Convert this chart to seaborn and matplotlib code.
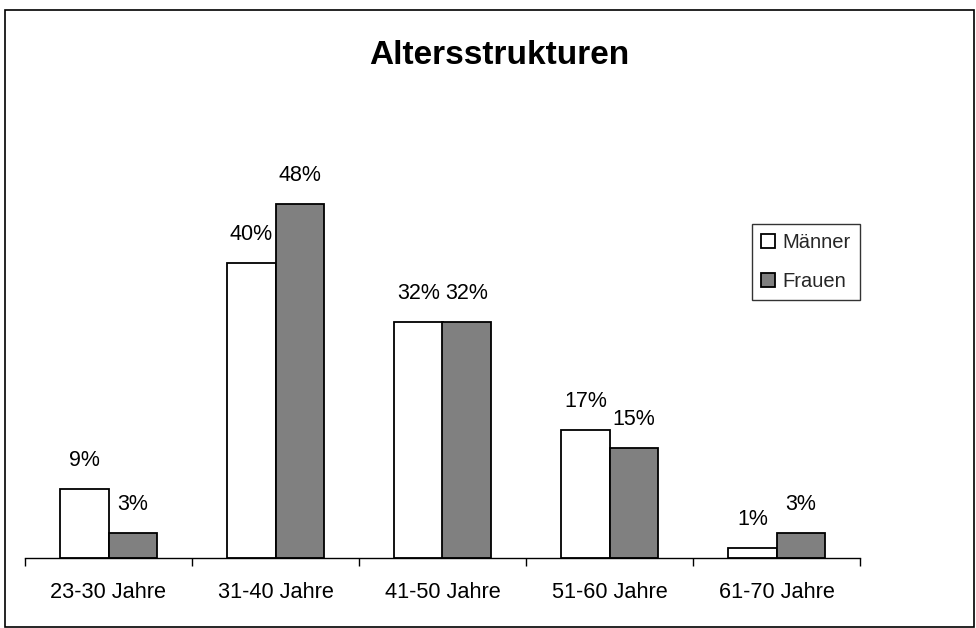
import numpy as np
import pandas as pd
import matplotlib
matplotlib.use("Agg")
import matplotlib.pyplot as plt
import seaborn as sns
from matplotlib.patches import Rectangle

# data
groups = ["23-30 Jahre", "31-40 Jahre", "41-50 Jahre", "51-60 Jahre", "61-70 Jahre"]
maenner = [9.4, 40.0, 32.0, 17.4, 1.4]
frauen = [3.4, 48.0, 32.0, 14.9, 3.4]
series = ["Männer", "Frauen"]

df = pd.DataFrame({
    "Gruppe": groups * 2,
    "Wert": maenner + frauen,
    "Geschlecht": [series[0]] * len(groups) + [series[1]] * len(groups),
})

sns.set_theme(style="white")
plt.rcParams["font.family"] = ["Liberation Sans", "DejaVu Sans"]

fig = plt.figure(figsize=(9.76, 6.28), dpi=100)
ax = fig.add_axes([25 / 976, 70 / 628, 835 / 976, 442 / 628])

sns.barplot(data=df, x="Gruppe", y="Wert", hue="Geschlecht", order=groups,
            hue_order=series, palette=["white", "#808080"], edgecolor="black",
            linewidth=1.3, width=0.575, ax=ax, legend=True)

# value labels above the bars
for cont in ax.containers:
    labels = [f"{b.get_height():.0f}%" for b in cont]
    ax.bar_label(cont, labels=labels, padding=13, fontsize=15.5, color="black")

ax.set_ylim(0, 60)
ax.set_xlim(-0.5, len(groups) - 0.5)
ax.set_xlabel("")
ax.set_ylabel("")
ax.set_yticks([])
for s in ["left", "top", "right"]:
    ax.spines[s].set_visible(False)
ax.spines["bottom"].set_color("black")
ax.spines["bottom"].set_linewidth(1)

# labels centred, tick marks between categories
ax.set_xticks(np.arange(len(groups)))
ax.set_xticklabels(groups, fontsize=15.7, color="black")
ax.set_xticks(np.arange(-0.5, len(groups)), minor=True)
ax.tick_params(axis="x", which="major", length=0, pad=17)
ax.tick_params(axis="x", which="minor", length=6, width=1, color="black",
               direction="out", bottom=True)

leg = ax.legend(loc="upper left", bbox_to_anchor=(752 / 976, 1 - 224 / 628),
                bbox_transform=fig.transFigure, frameon=True, fancybox=False,
                fontsize=14.5, handlelength=0.7, handleheight=0.7,
                handletextpad=0.35, borderpad=0.45, labelspacing=1.0,
                borderaxespad=0)
leg.get_frame().set_edgecolor("black")
leg.get_frame().set_linewidth(1)

fig.text(499 / 976, 1 - 55 / 628, "Altersstrukturen", ha="center", va="center",
         fontsize=24, fontweight="bold", color="black")

# frame around the whole chart
fig.patches.append(Rectangle((5 / 976, 1 / 628), 969 / 976, 617 / 628,
                             transform=fig.transFigure, fill=False,
                             edgecolor="black", linewidth=1.2))

fig.savefig("out.png", dpi=100, facecolor="white")
